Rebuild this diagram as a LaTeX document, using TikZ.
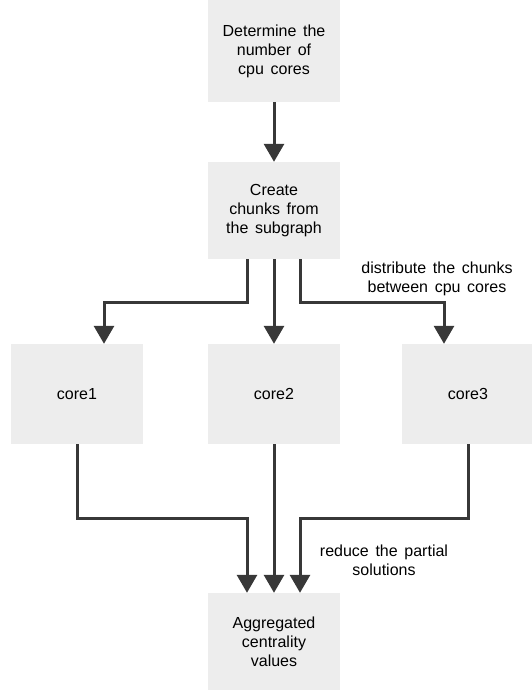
\documentclass[tikz,border=0pt]{standalone}
\usepackage{fontspec}
\setmainfont{Liberation Sans}[WordSpace=1.5]
\usepackage{tikz}
\usetikzlibrary{arrows.meta}

\begin{document}
\begin{tikzpicture}[box/.style={fill=black!7, minimum width=132pt, minimum height=97pt, align=center, inner sep=0pt, font=\fontsize{16}{19}\selectfont},
  note/.style={align=center, inner sep=0pt, font=\fontsize{16}{19}\selectfont},
  flow/.style={draw=black!78, line width=3pt, -{Triangle[width=20pt,length=18pt]}}]
  \useasboundingbox (0pt,0pt) rectangle (531pt,-690pt);

  \node[box, minimum height=102pt] (det) at (274pt,-51pt) {Determine the\\number of\\cpu cores};
  \node[box] (chunks) at (274pt,-210.5pt) {Create\\chunks from\\the subgraph};
  \node[box, minimum height=100pt] (core1) at (77pt,-394pt) {core1};
  \node[box, minimum height=100pt] (core2) at (274pt,-394pt) {core2};
  \node[box, minimum height=100pt] (core3) at (468pt,-394pt) {core3};
  \node[box] (agg) at (274pt,-641.5pt) {Aggregated\\centrality\\values};
  \node[note] (dist) at (437pt,-279pt) {distribute the chunks\\between cpu cores};
  \node[note] (red) at (384pt,-560pt) {reduce the partial\\solutions};

  \draw[flow] (det) -- (chunks);
  \draw[flow] ([xshift=-27pt]chunks.south) -- ++(0,-43pt) -| ([xshift=27pt]core1.north);
  \draw[flow] (chunks) -- (core2);
  \draw[flow] ([xshift=26pt]chunks.south) -- ++(0,-43pt) -| ([xshift=-24pt]core3.north);

  \draw[flow] (core1.south) -- ++(0,-74pt) -| ([xshift=-27pt]agg.north);
  \draw[flow] (core2) -- (agg);
  \draw[flow] (core3.south) -- ++(0,-74pt) -| ([xshift=26pt]agg.north);
\end{tikzpicture}
\end{document}
